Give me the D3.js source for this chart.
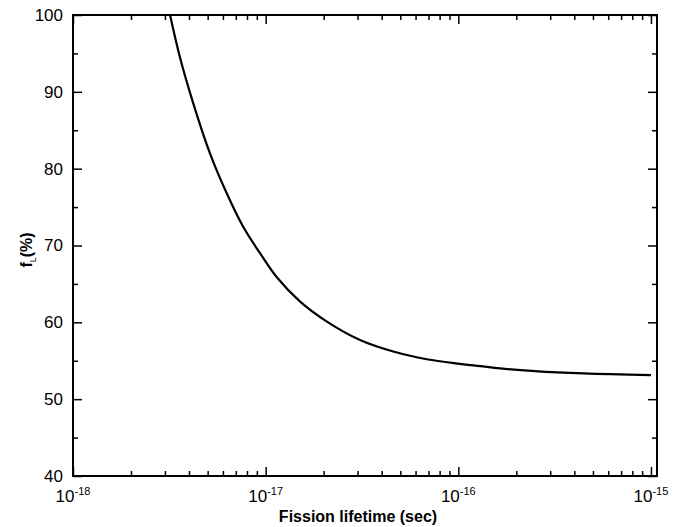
<!DOCTYPE html>
<html>
<head>
<meta charset="utf-8">
<script src="https://cdn.jsdelivr.net/npm/d3@7"></script>
<style>
  body { margin: 0; background: #fff; }
  text { font-family: "Liberation Sans", Arial, sans-serif; fill: #000; }
</style>
</head>
<body>
<div id="container"></div>
<script>
var scene_width = 681, scene_height = 527

// values
var lifetime = [3.19e-18, 3.59e-18, 4.21e-18, 5.14e-18, 6.28e-18, 7.66e-18, 9.35e-18,
                1.14e-17, 1.51e-17, 2.08e-17, 3.09e-17, 4.6e-17, 6.86e-17, 1.02e-16,
                1.3e-16, 1.65e-16, 2.5e-16, 4.47e-16, 1.0e-15]
var fL = [100, 94.5, 88.5, 82.0, 76.8, 72.4, 69.0,
          65.9, 62.7, 60.1, 57.7, 56.2, 55.2, 54.6,
          54.3, 54.0, 53.65, 53.35, 53.13]
var xMajor = [1e-18, 1e-17, 1e-16, 1e-15]
var xMajorLabels = ['-18', '-17', '-16', '-15']
var yMajor = [40, 50, 60, 70, 80, 90, 100]

var plotLeft = 73, plotRight = 657, plotTop = 15, plotBottom = 476

var x = d3.scaleLog().domain([1e-18, 1.075e-15]).range([plotLeft, plotRight])
var y = d3.scaleLinear().domain([40, 100]).range([plotBottom, plotTop])

var svg = d3.select('#container').append('svg')
    .attr('width', scene_width)
    .attr('height', scene_height)

var xticks = x.ticks().filter(d => d <= 1.0001e-15)
var isMajor = d => xMajor.some(m => Math.abs(m - d) / m < 1e-6)
var yticks = d3.range(40, 100.1, 5)

function drawX(gen, pos, dir) {
    var g = svg.append('g').attr('transform', 'translate(0,' + pos + ')')
        .call(gen(x).tickValues(xticks).tickFormat('').tickSizeOuter(0))
    g.select('.domain').remove()
    g.selectAll('.tick line')
        .attr('y2', d => dir * (isMajor(d) ? 9 : 5))
        .attr('stroke-width', 1.5)
}
function drawY(gen, pos, dir) {
    var g = svg.append('g').attr('transform', 'translate(' + pos + ',0)')
        .call(gen(y).tickValues(yticks).tickFormat('').tickSizeOuter(0))
    g.select('.domain').remove()
    g.selectAll('.tick line')
        .attr('x2', d => dir * (d % 10 === 0 ? 9 : 5))
        .attr('stroke-width', 1.5)
}
drawX(d3.axisBottom, plotBottom, -1)
drawX(d3.axisTop, plotTop, 1)
drawY(d3.axisLeft, plotLeft, 1)
drawY(d3.axisRight, plotRight, -1)

// frame
svg.append('rect')
    .attr('x', plotLeft).attr('y', plotTop)
    .attr('width', plotRight - plotLeft).attr('height', plotBottom - plotTop)
    .attr('fill', 'none').attr('stroke', '#000').attr('stroke-width', 2)

// x tick labels
xMajor.forEach(function (d, i) {
    var t = svg.append('text')
        .attr('x', x(d)).attr('y', 502)
        .attr('text-anchor', 'middle')
        .style('font-size', '17px')
    t.append('tspan').text('10')
    t.append('tspan').attr('dy', -7).style('font-size', '11px').text(xMajorLabels[i])
})

// y tick labels
yMajor.forEach(function (d) {
    svg.append('text')
        .attr('x', plotLeft - 10).attr('y', y(d))
        .attr('dy', '0.35em')
        .attr('text-anchor', 'end')
        .style('font-size', '17px')
        .text(d)
})

// curve
var line = d3.line()
    .x((d, i) => x(lifetime[i]))
    .y(d => y(d))
    .curve(d3.curveCatmullRom.alpha(0.5))

svg.append('path')
    .datum(fL)
    .attr('d', line)
    .attr('fill', 'none')
    .attr('stroke', '#000')
    .attr('stroke-width', 2.2)

// axis titles
svg.append('text')
    .attr('x', 358).attr('y', 522)
    .attr('text-anchor', 'middle')
    .style('font-size', '16px').style('font-weight', 'bold')
    .text('Fission lifetime (sec)')

var yl = svg.append('text')
    .attr('transform', 'translate(32,250) rotate(-90)')
    .attr('text-anchor', 'middle')
    .style('font-size', '16px').style('font-weight', 'bold')
yl.append('tspan').text('f')
yl.append('tspan').attr('dy', 4).style('font-size', '9px').style('font-weight', 'normal').text('L')
yl.append('tspan').attr('dy', -4).text('(%)')
</script>
</body>
</html>
